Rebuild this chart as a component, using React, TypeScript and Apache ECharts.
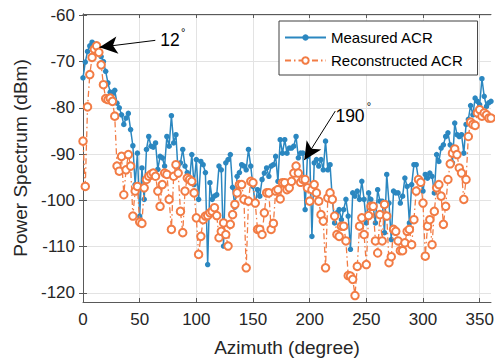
import React, { useEffect, useRef } from "react";
import * as echarts from "echarts";

const azimuth: number[] = [];
for (let a = 0; a <= 360; a += 2) azimuth.push(a);

const measured = [
  -73.5, -70.1, -67.8, -66.6, -65.8, -66.2, -66.8, -67.6, -68.9, -70, -72.1, -74.6, -76.6, -77, -76.2, -79,
  -80, -81.5, -83.6, -82.2, -81.2, -84.7, -88.2, -96.6, -89.8, -103.4, -93, -99.8, -89, -86.2, -88.3, -88.5,
  -87.6, -93.3, -90.5, -90.8, -92.6, -86.2, -88.3, -81.7, -87.6, -85.8, -94.4, -91.9, -89, -92.6, -94, -95.9,
  -90.1, -96.6, -91.2, -99.8, -91.6, -92.3, -94, -113.9, -96.2, -99.8, -99.1, -98.8, -92.6, -93.4, -109.9, -91.9,
  -91.2, -90.1, -97.2, -101.5, -94.8, -94, -92.3, -92.6, -93.4, -89, -92.6, -97, -100.9, -97.7, -99.1, -95.5,
  -94.1, -93, -94.8, -92.6, -92.3, -90.5, -95.9, -86.9, -89.8, -86.9, -89.8, -88.7, -88.7, -88.3, -86.2, -90.8,
  -89.8, -89.8, -102, -90.5, -89.4, -107.8, -91.9, -91.2, -92.6, -91.2, -93.4, -87.2, -93.4, -92.3, -99.8, -104.9,
  -102.7, -102, -104.2, -102, -99.8, -103.4, -110.6, -98.4, -99.1, -98, -99.8, -95.9, -99.8, -104.9, -98.4, -99.8,
  -101.3, -104.9, -97.7, -100.2, -100.2, -107, -94.4, -100.6, -108.5, -98, -98.4, -98.4, -100.6, -99.1, -95.2, -97,
  -104.9, -96.6, -92.3, -92.3, -95.5, -95.9, -98, -94.4, -95.2, -94.1, -94.8, -98.4, -90.1, -91.6, -88.7, -88,
  -86.2, -85.4, -88, -91.9, -83.3, -85.8, -86.2, -85.8, -89.8, -83.6, -82.5, -79.5, -81.5, -77.9, -78.6, -79.3,
  -73.7, -77.5, -79.7, -78.9, -78.6,
];

const reconstructed = [
  -87.2, -97, -79.8, -72.8, -69.1, -67.3, -66.6, -68, -70.7, -75, -78, -78.2, -77.9, -78.6, -81.8, -92.6,
  -93.7, -90.5, -98.8, -93.4, -90.1, -92.6, -103.4, -98, -97, -104.7, -105, -97.3, -95.5, -94.8, -94.4, -94.1,
  -94.8, -98, -101.3, -96.6, -94.1, -94.4, -99.8, -106.3, -94.8, -92.3, -94.1, -102.4, -107, -98, -95.2, -95.5,
  -95.9, -98.4, -103.8, -111.7, -107.8, -104.2, -103.4, -103.3, -102.7, -102.4, -101.6, -103.3, -108.1, -106.7, -104.9, -107.4,
  -109.9, -105.2, -103.1, -100.9, -98.4, -96.6, -96.6, -99.8, -114.6, -100.2, -95.9, -96.2, -100.6, -106.3, -106.3, -107.4,
  -102.7, -98.4, -98.4, -106.3, -105, -98, -97.7, -99.7, -96.2, -96.2, -97.7, -97.3, -95.9, -94.1, -92.6, -94.1,
  -96.1, -95.5, -95.5, -97.3, -100.2, -97.7, -96.6, -98.4, -100.2, -103.1, -104.5, -114.6, -99.5, -98.4, -99.8, -103.4,
  -107.4, -107.8, -105.6, -105.6, -108.8, -116.3, -116.4, -117.1, -120.6, -114.3, -105.6, -103.8, -107.4, -113.9, -103.3, -101.3,
  -101.3, -108.8, -111.4, -103.1, -108.8, -100.9, -103.4, -113.5, -112.2, -106.3, -106.7, -108.8, -110.9, -110.9, -109.2, -106.7,
  -106.3, -109.6, -104.2, -98, -95.5, -96.1, -100.6, -112.1, -105.6, -104.2, -109.6, -102.4, -97.3, -96.6, -99.1, -105.2,
  -101.3, -95.5, -92.1, -89.8, -88.9, -90.1, -93, -94.1, -99.8, -95.5, -86.2, -83.1, -83.6, -83.8, -81.1, -80.4,
  -81.8, -81.1, -81.5, -82.2, -82.2,
];

const yTicks = [-120, -110, -100, -90, -80, -70, -60];
const xTicks = [0, 50, 100, 150, 200, 250, 300, 350];

const seriesNames = ["Measured ACR", "Reconstructed ACR"];

// annotation anchors in data coordinates
const arrow12 = { from: [63.8, -65.4], to: [14.6, -66.9] };
const arrow190 = { from: [222.6, -80.7], to: [195.3, -91.3] };
const label12 = { text: "12", at: [68.2, -65.4], deg: [88.4, -63.6] };
const label190 = { text: "190", at: [222.7, -81.7], deg: [252.3, -79.6] };

const BLUE = "#2b87c0";
const ORANGE = "#f27c45";
const FONT = "Liberation Sans, Arial, sans-serif";

export default function App() {
  const ref = useRef<HTMLDivElement>(null);

  useEffect(() => {
    const chart = echarts.init(ref.current!, null, { renderer: "svg" });
    const axisLineColor = "#595959";
    const textColor = "#262626";
    const labelMark = (t: string, at: number[], size: number, pos: string) => ({
      coord: at,
      symbolSize: 0,
      label: {
        show: true,
        formatter: t,
        position: pos,
        distance: 0,
        fontSize: size,
        color: "#000",
        fontFamily: FONT,
      },
    });
    chart.setOption({
      animation: false,
      backgroundColor: "#fff",
      grid: { left: 83, right: 4, top: 14, bottom: 60, outerBoundsMode: "none", show: false },
      legend: {
        orient: "vertical",
        left: 279,
        top: 21,
        padding: [8, 14, 6, 5],
        itemWidth: 41,
        itemHeight: 8,
        itemGap: 6,
        borderColor: "#404040",
        borderWidth: 1,
        backgroundColor: "#fff",
        borderRadius: 0,
        textStyle: { fontSize: 15, color: "#000", fontFamily: FONT, lineHeight: 17 },
        data: seriesNames,
      },
      xAxis: [
        {
          type: "value",
          min: 0,
          max: 360,
          name: "Azimuth (degree)",
          nameLocation: "middle",
          nameGap: 36,
          nameTextStyle: { fontSize: 19, color: textColor, fontFamily: FONT },
          axisLine: { show: true, lineStyle: { color: axisLineColor, width: 1 } },
          axisTick: { show: true, inside: true, length: 4, customValues: xTicks, lineStyle: { color: axisLineColor } },
          axisLabel: { customValues: xTicks, fontSize: 17, color: textColor, margin: 9, fontFamily: FONT },
          splitLine: { show: true, lineStyle: { color: "#e3e3e3", width: 1 } },
        },
        {
          type: "value",
          position: "top",
          min: 0,
          max: 360,
          axisLine: { show: true, lineStyle: { color: axisLineColor, width: 1 } },
          axisTick: { show: true, inside: true, length: 4, customValues: xTicks, lineStyle: { color: axisLineColor } },
          axisLabel: { show: false },
          splitLine: { show: false },
        },
      ],
      yAxis: [
        {
          type: "value",
          min: -122,
          max: -59.7,
          name: "Power Spectrum (dBm)",
          nameLocation: "middle",
          nameGap: 51,
          nameTextStyle: { fontSize: 19, color: textColor, fontFamily: FONT },
          axisLine: { show: true, lineStyle: { color: axisLineColor, width: 1 } },
          axisTick: { show: true, inside: true, length: 4, customValues: yTicks, lineStyle: { color: axisLineColor } },
          axisLabel: { customValues: yTicks, fontSize: 17, color: textColor, margin: 8, fontFamily: FONT },
          splitLine: { show: true, lineStyle: { color: "#e3e3e3", width: 1 } },
        },
        {
          type: "value",
          position: "right",
          min: -122,
          max: -59.7,
          axisLine: { show: true, lineStyle: { color: axisLineColor, width: 1 } },
          axisTick: { show: true, inside: true, length: 4, customValues: yTicks, lineStyle: { color: axisLineColor } },
          axisLabel: { show: false },
          splitLine: { show: false },
        },
      ],
      series: [
        {
          name: seriesNames[0],
          type: "line",
          xAxisIndex: 0,
          yAxisIndex: 0,
          data: azimuth.map((a, i) => [a, measured[i]]),
          symbol: "circle",
          symbolSize: 5.5,
          showAllSymbol: true,
          itemStyle: { color: BLUE },
          lineStyle: { color: BLUE, width: 1.5 },
          z: 2,
        },
        {
          name: seriesNames[1],
          type: "line",
          xAxisIndex: 0,
          yAxisIndex: 0,
          data: azimuth.map((a, i) => [a, reconstructed[i]]),
          symbol: "emptyCircle",
          symbolSize: 7.5,
          showAllSymbol: true,
          itemStyle: { color: ORANGE, borderWidth: 1.3, borderColor: ORANGE },
          lineStyle: { color: ORANGE, width: 1.3, type: [6, 3, 1.5, 3] },
          z: 3,
          markLine: {
            silent: true,
            symbol: ["none", "arrow"],
            symbolSize: [13, 18],
            label: { show: false },
            lineStyle: { color: "#000", width: 1, type: "solid" },
            itemStyle: { color: "#000" },
            emphasis: { disabled: true },
            data: [
              [{ coord: arrow12.from }, { coord: arrow12.to }],
              [{ coord: arrow190.from }, { coord: arrow190.to }],
            ],
          },
          markPoint: {
            silent: true,
            symbol: "circle",
            itemStyle: { color: "transparent" },
            data: [
              labelMark(label12.text, label12.at, 17.5, "right"),
              labelMark("°", label12.deg, 11, "inside"),
              labelMark(label190.text, label190.at, 17.5, "right"),
              labelMark("°", label190.deg, 11, "inside"),
            ],
          },
        },
      ],
    });
    return () => chart.dispose();
  }, []);

  return (
    <div
      ref={ref}
      style={{ position: "fixed", left: 0, top: 0, width: 495, height: 362 }}
    />
  );
}
